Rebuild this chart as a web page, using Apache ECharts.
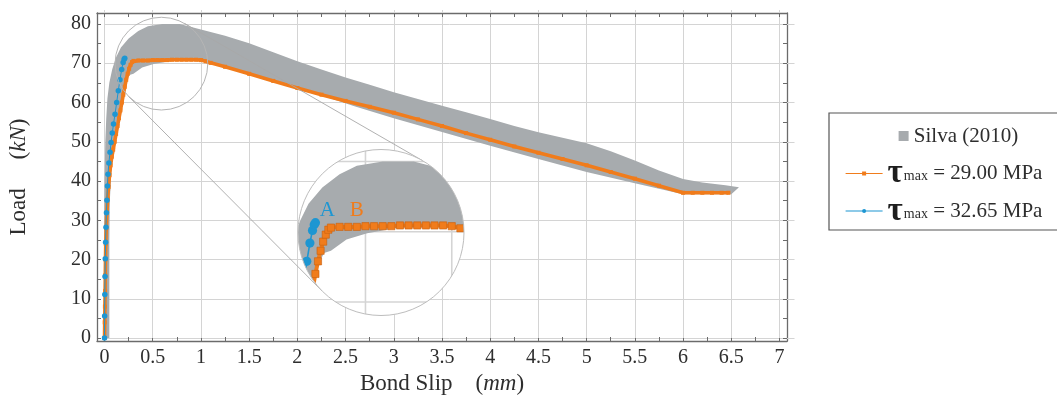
<!DOCTYPE html>
<html><head><meta charset="utf-8">
<script src="https://cdn.jsdelivr.net/npm/echarts@6/dist/echarts.min.js"></script>
<style>html,body{margin:0;padding:0;background:#fff}#c{width:1057px;height:403px}</style>
</head><body><div id="c"></div>
<script>
// ---------------- data ----------------
const xTicks = [0, 0.5, 1, 1.5, 2, 2.5, 3, 3.5, 4, 4.5, 5, 5.5, 6, 6.5, 7];
const xMinorTicks = [0, 0.25, 0.5, 0.75, 1, 1.25, 1.5, 1.75, 2, 2.25, 2.5, 2.75, 3, 3.25, 3.5, 3.75, 4, 4.25, 4.5, 4.75, 5, 5.25, 5.5, 5.75, 6, 6.25, 6.5, 6.75, 7];
const yTicks = [0, 10, 20, 30, 40, 50, 60, 70, 80];
const yMinorTicks = [0, 5, 10, 15, 20, 25, 30, 35, 40, 45, 50, 55, 60, 65, 70, 75, 80];

// Silva (2010) envelope: upper (left) boundary and lower (right) boundary
const bandUpperX = [-0.005, -0.005, 0.0, 0.008, 0.018, 0.03, 0.05, 0.08, 0.12, 0.17, 0.25, 0.35, 0.45, 0.6, 0.78, 1.0, 1.25, 1.5, 1.75, 2.0, 2.25, 2.5, 2.75, 3.0, 3.25, 3.5, 3.75, 4.0, 4.25, 4.5, 4.75, 5.0, 5.25, 5.5, 5.75, 6.0, 6.2, 6.44, 6.58];
const bandUpperY = [0, 20, 40, 50, 56, 61, 65, 68.5, 71.5, 74, 76.3, 78.2, 79.4, 80.0, 80.0, 78.6, 77.0, 75.1, 72.8, 70.5, 68.4, 66.4, 64.5, 62.6, 60.9, 59.2, 57.5, 55.8, 54.0, 52.4, 51.0, 49.6, 47.6, 45.2, 42.7, 40.5, 39.6, 38.9, 38.4];
const bandLowerX = [0.05, 0.05, 0.055, 0.07, 0.09, 0.12, 0.15, 0.18, 0.2, 0.23, 0.26, 0.3, 0.39, 0.51, 0.7, 1.0, 1.5, 2.0, 2.3, 2.6, 3.0, 3.5, 4.0, 4.5, 5.0, 5.5, 6.0, 6.5, 6.58];
const bandLowerY = [0, 25, 35, 42, 47.5, 51.5, 55.5, 59.5, 62.5, 65.5, 67.0, 67.3, 68.9, 69.8, 70.6, 70.6, 67.1, 63.5, 61.4, 59.0, 56.0, 52.5, 49.0, 45.6, 42.3, 39.4, 36.6, 36.6, 38.4];

// tau_max = 29.00 MPa
const orangeX = [0, 0.002, 0.004, 0.006, 0.008, 0.01, 0.013, 0.018, 0.025, 0.033, 0.042, 0.052, 0.063, 0.076, 0.09, 0.105, 0.12, 0.135, 0.15, 0.165, 0.18, 0.195, 0.21, 0.225, 0.24, 0.255, 0.27, 0.285, 0.3, 0.35, 0.4, 0.45, 0.5, 0.55, 0.6, 0.65, 0.7, 0.75, 0.8, 0.85, 0.9, 0.95, 1.0, 1.05, 1.1, 1.25, 1.5, 1.75, 2.0, 2.25, 2.5, 2.75, 3.0, 3.25, 3.5, 3.75, 4.0, 4.25, 4.5, 4.75, 5.0, 5.25, 5.5, 5.75, 6.0, 6.1, 6.2, 6.3, 6.4, 6.47];
const orangeY = [0, 4, 8, 12, 16, 20, 24, 28, 32, 35.5, 38.5, 41.5, 44, 46.2, 48, 50, 52, 54, 56, 58, 60, 62, 64, 65.8, 67.3, 68.6, 69.6, 70.3, 70.6, 70.7, 70.7, 70.7, 70.8, 70.8, 70.8, 70.8, 70.9, 70.9, 70.9, 70.9, 70.9, 70.9, 70.8, 70.5, 70.1, 69.1, 67.3, 65.5, 63.7, 62.0, 60.4, 58.9, 57.4, 55.7, 54.0, 52.2, 50.5, 48.8, 47.2, 45.6, 44.0, 42.3, 40.6, 38.8, 37.0, 37.0, 37.0, 37.0, 37.0, 37.0];

// tau_max = 32.65 MPa
const blueX = [0, 0.001, 0.003, 0.005, 0.008, 0.011, 0.015, 0.02, 0.025, 0.03, 0.036, 0.045, 0.057, 0.068, 0.08, 0.093, 0.109, 0.126, 0.143, 0.16, 0.178, 0.193, 0.203, 0.21];
const blueY = [0, 5.6, 11.1, 15.7, 20.2, 24.4, 28.2, 31.9, 35.1, 38.7, 41.7, 44.6, 47.3, 49.8, 52.2, 54.5, 57.0, 60.0, 63.0, 65.8, 68.4, 70.2, 71.0, 71.3];

const seriesNames = ['Silva (2010)', '\u03c4max = 29.00 MPa', '\u03c4max = 32.65 MPa'];

// ---------------- style / layout ----------------
const FONT = '"Liberation Serif", "DejaVu Serif", serif';
const TEXT = '#2e2e2e';
const FRAME = '#6b6b6b';
const GRID = '#d4d4d4';
const GRAY = '#a7abae';
const ORANGE = '#f07c1c';
const ORANGE_D = '#c8600e';
const BLUE = '#1d96d2';

const X_MIN = -0.078, X_MAX = 7.078, Y_MIN = -0.76, Y_MAX = 82.8;
const MAIN = {left: 97, top: 13, width: 690, height: 328};
const spyCenter = [0.59, 69.9];
const spyMag = 1.79;
const INSET = {cx: 381, cy: 232.5, r: 83};
const pxPerX = MAIN.width / (X_MAX - X_MIN);
const pxPerY = MAIN.height / (Y_MAX - Y_MIN);
const halfX = INSET.r / (pxPerX * spyMag);
const halfY = INSET.r / (pxPerY * spyMag);

const zip = (a, b) => a.map((v, i) => [v, b[i]]);
const bandPts = zip(bandUpperX, bandUpperY).concat(zip(bandLowerX, bandLowerY).reverse());
const orangePts = zip(orangeX, orangeY);
const bluePts = zip(blueX, blueY);

const chart = echarts.init(document.getElementById('c'), null, {renderer: 'canvas'});

function frameAxis(pos, grid, min, max) {
  return {type: 'value', gridIndex: grid, position: pos, min: min, max: max,
    axisLine: {show: true, onZero: false, lineStyle: {color: FRAME, width: 1.3}},
    axisTick: {show: true, inside: true, length: 4, lineStyle: {color: FRAME, width: 1}},
    axisLabel: {show: false}, splitLine: {show: false}};
}
const titleRich = {
  r: {fontFamily: FONT, fontSize: 23, color: TEXT},
  i: {fontFamily: FONT, fontSize: 23, fontStyle: 'italic', color: TEXT}
};

const xAxes = [
  Object.assign(frameAxis('bottom', 0, X_MIN, X_MAX), {
    axisTick: {show: true, inside: true, length: 4, customValues: xMinorTicks, lineStyle: {color: FRAME, width: 1}},
    axisLabel: {show: true, customValues: xTicks, margin: 7, fontFamily: FONT, fontSize: 20, color: TEXT},
    name: '{r|Bond Slip}{r|    (}{i|mm}{r|)}', nameLocation: 'middle', nameGap: 31,
    nameTextStyle: {rich: titleRich}
  }),
  {type: 'value', gridIndex: 0, position: 'bottom', min: X_MIN, max: X_MAX,
    axisLine: {show: false}, axisLabel: {show: false}, splitLine: {show: false},
    axisTick: {show: true, inside: true, length: MAIN.height, customValues: xTicks, lineStyle: {color: GRID, width: 1}}},
  Object.assign(frameAxis('top', 0, X_MIN, X_MAX), {
    axisTick: {show: true, inside: true, length: 4, customValues: xMinorTicks, lineStyle: {color: FRAME, width: 1}}}),
  {type: 'value', gridIndex: 1, min: spyCenter[0] - halfX, max: spyCenter[0] + halfX, show: false}
];
const yAxes = [
  Object.assign(frameAxis('left', 0, Y_MIN, Y_MAX), {
    axisTick: {show: true, inside: true, length: 4, customValues: yMinorTicks, lineStyle: {color: FRAME, width: 1}},
    axisLabel: {show: true, customValues: yTicks, margin: 6, fontFamily: FONT, fontSize: 20, color: TEXT},
    name: '{r|Load}{r|     (}{i|kN}{r|)}', nameLocation: 'middle', nameGap: 67, nameRotate: 90,
    nameTextStyle: {rich: titleRich}
  }),
  {type: 'value', gridIndex: 0, position: 'left', min: Y_MIN, max: Y_MAX,
    axisLine: {show: false}, axisLabel: {show: false}, splitLine: {show: false},
    axisTick: {show: true, inside: true, length: MAIN.width, customValues: yTicks, lineStyle: {color: GRID, width: 1}}},
  Object.assign(frameAxis('right', 0, Y_MIN, Y_MAX), {
    axisTick: {show: true, inside: true, length: 4, customValues: yMinorTicks, lineStyle: {color: FRAME, width: 1}}}),
  {type: 'value', gridIndex: 1, min: spyCenter[1] - halfY, max: spyCenter[1] + halfY, show: false}
];

function insetRender(params, api) {
  const c = api.coord(spyCenter);
  const r = api.size([halfX, 0])[0];
  const kids = [];
  xTicks.forEach(function (x) {
    const a = api.coord([x, Y_MIN]), b = api.coord([x, Y_MAX]);
    kids.push({type: 'line', shape: {x1: a[0], y1: a[1], x2: b[0], y2: b[1]}, style: {stroke: GRID, lineWidth: 1.6}});
  });
  yTicks.forEach(function (y) {
    const a = api.coord([X_MIN, y]), b = api.coord([X_MAX, y]);
    kids.push({type: 'line', shape: {x1: a[0], y1: a[1], x2: b[0], y2: b[1]}, style: {stroke: GRID, lineWidth: 1.6}});
  });
  kids.push({type: 'polygon', shape: {points: bandPts.map(function (p) { return api.coord(p); })}, style: {fill: GRAY}});
  const op = orangePts.map(function (p) { return api.coord(p); });
  kids.push({type: 'polyline', shape: {points: op}, style: {stroke: ORANGE, lineWidth: 4, fill: null}});
  op.forEach(function (p) {
    kids.push({type: 'rect', shape: {x: p[0] - 3.6, y: p[1] - 3.6, width: 7.2, height: 7.2}, style: {fill: ORANGE, stroke: ORANGE_D, lineWidth: 0.6}});
  });
  const bp = bluePts.map(function (p) { return api.coord(p); });
  kids.push({type: 'polyline', shape: {points: bp}, style: {stroke: BLUE, lineWidth: 1.6, fill: null}});
  bp.forEach(function (p) {
    kids.push({type: 'circle', shape: {cx: p[0], cy: p[1], r: 4.6}, style: {fill: BLUE}});
  });
  const lastBlue = bp[bp.length - 1];
  const bAnchor = api.coord([0.45, 70.8]);
  kids.push({type: 'text', x: lastBlue[0] + 12, y: lastBlue[1] - 12, style: {text: 'A', fill: BLUE, font: '21px ' + FONT, align: 'center', verticalAlign: 'middle'}});
  kids.push({type: 'text', x: bAnchor[0], y: bAnchor[1] - 16, style: {text: 'B', fill: ORANGE, font: '21px ' + FONT, align: 'center', verticalAlign: 'middle'}});
  return {type: 'group', children: [
    {type: 'circle', shape: {cx: c[0], cy: c[1], r: r}, style: {fill: '#fff'}},
    {type: 'group', clipPath: {type: 'circle', shape: {cx: c[0], cy: c[1], r: r}}, children: kids},
    {type: 'circle', shape: {cx: c[0], cy: c[1], r: r}, style: {fill: null, stroke: '#bdbdbd', lineWidth: 1}}
  ]};
}

const option = {
  animation: false,
  backgroundColor: '#fff',
  grid: [
    {left: MAIN.left, top: MAIN.top, width: MAIN.width, height: MAIN.height, containLabel: false, outerBoundsMode: 'none'},
    {left: INSET.cx - INSET.r, top: INSET.cy - INSET.r, width: 2 * INSET.r, height: 2 * INSET.r, containLabel: false, outerBoundsMode: 'none'}
  ],
  xAxis: xAxes,
  yAxis: yAxes,
  legend: {
    orient: 'vertical', left: 829, top: 113,
    padding: [6, 22, 2, 16],
    borderColor: '#555', borderWidth: 1.2, borderRadius: 0,
    itemWidth: 37, itemHeight: 5, itemGap: 3.5,
    selectedMode: false,
    lineStyle: {width: 1.2},
    data: [{name: seriesNames[0], icon: 'none'}, {name: seriesNames[1]}, {name: seriesNames[2]}],
    formatter: function (name) {
      if (name === seriesNames[0]) return '{sp|}{box|}{n| Silva (2010)}';
      return '{t|\u03c4}{s|max}{n|' + name.slice(4) + '}';
    },
    textStyle: {fontFamily: FONT, fontSize: 21, color: TEXT, lineHeight: 34, rich: {
      sp: {width: 11, height: 10, lineHeight: 34},
      box: {width: 10, height: 10, backgroundColor: GRAY, lineHeight: 34},
      n: {fontFamily: FONT, fontSize: 21, color: TEXT, lineHeight: 34},
      t: {fontFamily: FONT, fontSize: 33, fontWeight: 'bold', color: '#1e1e1e', lineHeight: 34},
      s: {fontFamily: FONT, fontSize: 14, color: TEXT, lineHeight: 34, padding: [6, 0, 0, 1]}
    }}
  },
  series: [
    {type: 'custom', name: seriesNames[0], xAxisIndex: 0, yAxisIndex: 0, data: [[0, 0]], z: 2, clip: true,
      itemStyle: {color: GRAY},
      renderItem: function (params, api) {
        return {type: 'polygon', shape: {points: bandPts.map(function (p) { return api.coord(p); })}, style: {fill: GRAY}};
      }},
    {type: 'line', name: seriesNames[1], xAxisIndex: 0, yAxisIndex: 0, data: orangePts, z: 3,
      symbol: 'rect', symbolSize: 4, showAllSymbol: true,
      lineStyle: {color: ORANGE, width: 3.6}, itemStyle: {color: ORANGE}},
    {type: 'line', name: seriesNames[2], xAxisIndex: 0, yAxisIndex: 0, data: bluePts, z: 4,
      symbol: 'circle', symbolSize: 5.5, showAllSymbol: true,
      lineStyle: {color: BLUE, width: 1}, itemStyle: {color: BLUE}},
    {type: 'custom', name: 'spy', xAxisIndex: 0, yAxisIndex: 0, data: [[0, 0]], z: 5, clip: false, silent: true,
      renderItem: function (params, api) {
        const c = api.coord(spyCenter);
        const r = api.size([halfX, 0])[0];
        return {type: 'circle', shape: {cx: c[0], cy: c[1], r: r}, style: {fill: null, stroke: '#b5b5b5', lineWidth: 1}};
      }},
    {type: 'custom', name: 'inset', xAxisIndex: 3, yAxisIndex: 3, data: [[0, 0]], z: 10, clip: false, silent: true,
      renderItem: insetRender}
  ]
};
chart.setOption(option);

// connection lines between the spy circle and the magnified inset (external tangents)
const p1 = chart.convertToPixel({xAxisIndex: 0, yAxisIndex: 0}, spyCenter);
const p2 = chart.convertToPixel({xAxisIndex: 3, yAxisIndex: 3}, spyCenter);
const r1 = chart.convertToPixel({xAxisIndex: 0, yAxisIndex: 0}, [spyCenter[0] + halfX, spyCenter[1]])[0] - p1[0];
const r2 = chart.convertToPixel({xAxisIndex: 3, yAxisIndex: 3}, [spyCenter[0] + halfX, spyCenter[1]])[0] - p2[0];
const dx = p2[0] - p1[0], dy = p2[1] - p1[1], d = Math.hypot(dx, dy);
const u = [dx / d, dy / d], up = [-u[1], u[0]];
const s = (r2 - r1) / d, q = Math.sqrt(1 - s * s);
const lines = [1, -1].map(function (sg) {
  const n = [-s * u[0] + sg * q * up[0], -s * u[1] + sg * q * up[1]];
  return {type: 'line', z: 6, silent: true,
    shape: {x1: p1[0] + r1 * n[0], y1: p1[1] + r1 * n[1], x2: p2[0] + r2 * n[0], y2: p2[1] + r2 * n[1]},
    style: {stroke: '#a8a8a8', lineWidth: 0.9}};
});
chart.setOption({graphic: lines});
</script>
</body></html>
